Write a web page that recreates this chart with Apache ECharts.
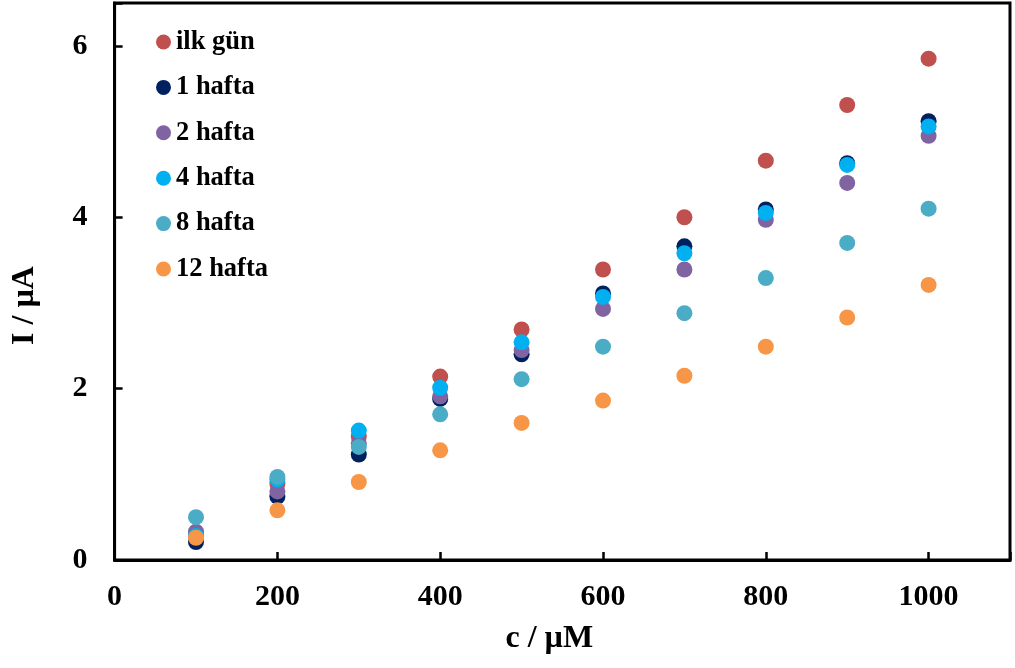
<!DOCTYPE html>
<html>
<head>
<meta charset="utf-8">
<script src="https://cdn.jsdelivr.net/npm/echarts@6/dist/echarts.min.js"></script>
<style>
  html, body { margin: 0; padding: 0; background: #fff; }
  #chart { width: 1015px; height: 668px; }
</style>
</head>
<body>
<div id="chart"></div>
<script>
// Concentration steps (µM)
const concentrations = [100, 200, 300, 400, 500, 600, 700, 800, 900, 1000];

// Current response (µA) measured after each storage period
const seriesNames = ['ilk gün', '1 hafta', '2 hafta', '4 hafta', '8 hafta', '12 hafta'];
const ilkGun   = [0.30, 0.89, 1.44, 2.14, 2.69, 3.39, 4.00, 4.66, 5.31, 5.85];
const hafta1   = [0.21, 0.74, 1.23, 1.88, 2.40, 3.11, 3.66, 4.09, 4.63, 5.12];
const hafta2   = [0.33, 0.80, 1.36, 1.91, 2.45, 2.93, 3.39, 3.97, 4.40, 4.95];
const hafta4   = [0.28, 0.94, 1.51, 2.01, 2.54, 3.07, 3.58, 4.05, 4.61, 5.06];
const hafta8   = [0.50, 0.97, 1.32, 1.70, 2.11, 2.49, 2.88, 3.29, 3.70, 4.10];
const hafta12  = [0.26, 0.58, 0.91, 1.28, 1.60, 1.86, 2.15, 2.49, 2.83, 3.21];

const colors = ['#C0504D', '#002060', '#8064A2', '#00B0F0', '#4BACC6', '#F79646'];

const xTicks = [0, 200, 400, 600, 800, 1000];
const yTicks = [0, 2, 4, 6];

const allValues = [ilkGun, hafta1, hafta2, hafta4, hafta8, hafta12];

const font = 'Liberation Serif, Times New Roman, serif';

const chart = echarts.init(document.getElementById('chart'), null, { renderer: 'canvas' });

chart.setOption({
  animation: false,
  backgroundColor: '#ffffff',
  grid: {
    left: 114.6, right: 5, top: 3, bottom: 108,
    show: true, borderColor: '#000', borderWidth: 3, backgroundColor: 'transparent'
  },
  legend: {
    orient: 'vertical',
    left: 156, top: 28.5, padding: 0,
    itemWidth: 15, itemHeight: 15, itemGap: 18.4,
    icon: 'circle',
    data: seriesNames,
    textStyle: { fontFamily: font, fontWeight: 'bold', fontSize: 26.5, color: '#000' }
  },
  xAxis: {
    type: 'value', min: 0, max: 1100, interval: 200,
    name: 'c / µM', nameLocation: 'middle', nameGap: 63,
    nameTextStyle: { fontFamily: font, fontWeight: 'bold', fontSize: 32, color: '#000', padding: [0, 26, 0, 0] },
    axisLine: { show: true, lineStyle: { color: '#000', width: 3 } },
    axisTick: { show: true, inside: true, length: 8, lineStyle: { color: '#000', width: 2.5 } },
    axisLabel: {
      margin: 22, fontFamily: font, fontWeight: 'bold', fontSize: 30, color: '#000',
      formatter: v => xTicks.includes(v) ? String(v) : ''
    },
    splitLine: { show: false }
  },
  yAxis: {
    type: 'value', min: 0, max: 6.5, interval: 2,
    name: 'I / µA', nameLocation: 'middle', nameGap: 74,
    nameTextStyle: { fontFamily: font, fontWeight: 'bold', fontSize: 32, color: '#000', padding: [0, 48, 0, 0] },
    axisLine: { show: true, lineStyle: { color: '#000', width: 3 } },
    axisTick: { show: true, inside: true, length: 8, lineStyle: { color: '#000', width: 2.5 } },
    axisLabel: {
      margin: 27, fontFamily: font, fontWeight: 'bold', fontSize: 30, color: '#000',
      formatter: v => yTicks.includes(v) ? String(v) : ''
    },
    splitLine: { show: false }
  },
  series: seriesNames.map((name, i) => ({
    name: name,
    type: 'scatter',
    symbol: 'circle',
    symbolSize: 16,
    itemStyle: { color: colors[i], opacity: 1 },
    data: concentrations.map((c, j) => [c, allValues[i][j]])
  }))
});
</script>
</body>
</html>
